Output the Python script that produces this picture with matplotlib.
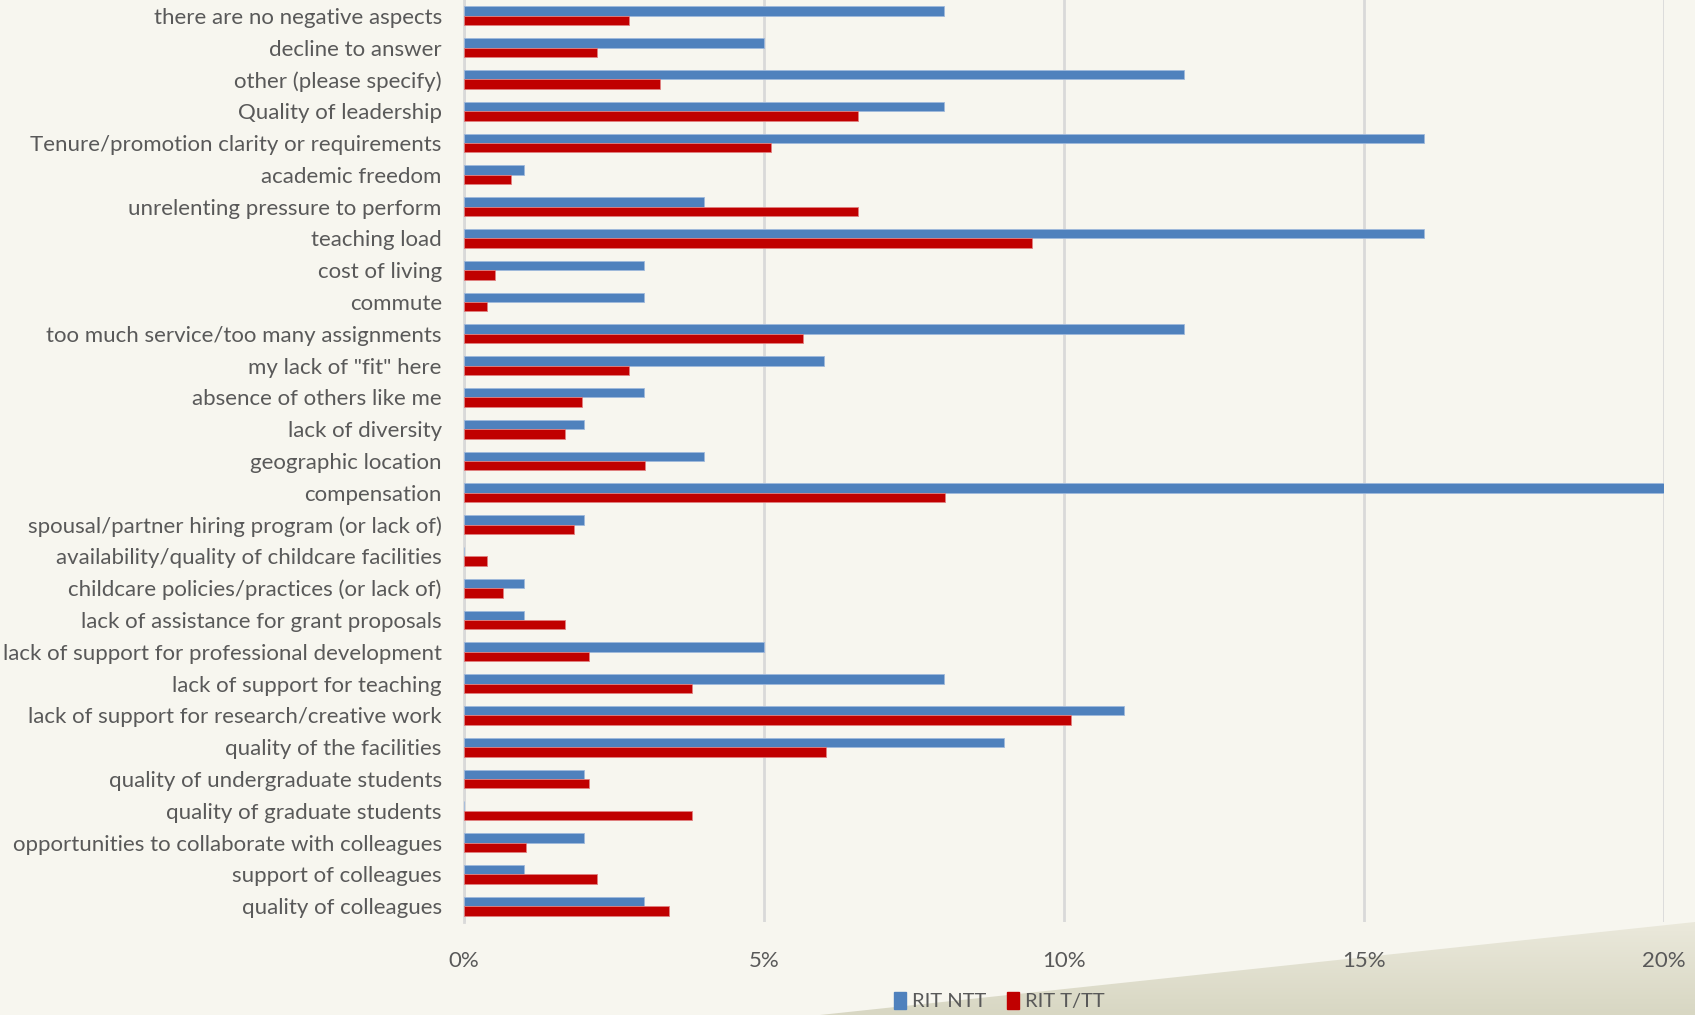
import numpy as np
import matplotlib.pyplot as plt
from matplotlib.patches import Polygon, Patch

categories = [
    "there are no negative aspects",
    "decline to answer",
    "other (please specify)",
    "Quality of leadership",
    "Tenure/promotion clarity or requirements",
    "academic freedom",
    "unrelenting pressure to perform",
    "teaching load",
    "cost of living",
    "commute",
    "too much service/too many assignments",
    "my lack of \"fit\" here",
    "absence of others like me",
    "lack of diversity",
    "geographic location",
    "compensation",
    "spousal/partner hiring program (or lack of)",
    "availability/quality of childcare facilities",
    "childcare policies/practices (or lack of)",
    "lack of assistance for grant proposals",
    "lack of support for professional development",
    "lack of support for teaching",
    "lack of support for research/creative work",
    "quality of the facilities",
    "quality of undergraduate students",
    "quality of graduate students",
    "opportunities to collaborate with colleagues",
    "support of colleagues",
    "quality of colleagues",
]

# percent of respondents
rit_ntt = [8, 5, 12, 8, 16, 1, 4, 16, 3, 3, 12, 6, 3, 2, 4, 20, 2, 0, 1, 1,
           5, 8, 11, 9, 2, 0, 2, 1, 3]
rit_ttt = [2.75, 2.22, 3.27, 6.57, 5.12, 0.78, 6.57, 9.46, 0.52, 0.38, 5.65,
           2.75, 1.96, 1.69, 3.01, 8.02, 1.83, 0.38, 0.65, 1.69, 2.08, 3.80,
           10.11, 6.03, 2.08, 3.80, 1.04, 2.22, 3.41]

xticks = [0, 5, 10, 15, 20]
xtick_labels = ["0%", "5%", "10%", "15%", "20%"]

BG = "#f7f6ef"
TXT = "#595959"
BLUE = "#4f81bd"
RED = "#c00000"
FS = 16

W, H = 1695, 1015
fig = plt.figure(figsize=(W / 100, H / 100), dpi=100, facecolor=BG)

# background layer with the shaded wedge in the lower right corner
bg = fig.add_axes([0, 0, 1, 1], zorder=-1)
bg.set_xlim(0, W)
bg.set_ylim(H, 0)
bg.axis("off")
wedge = Polygon([(820, H), (W, 922), (W, H)], closed=True,
                facecolor="none", edgecolor="none")
bg.add_patch(wedge)
grad = np.linspace(0, 1, 100).reshape(-1, 1)
img = bg.imshow(grad, extent=[800, W, H, 915], aspect="auto",
                cmap=plt.matplotlib.colors.LinearSegmentedColormap.from_list(
                    "w", ["#eceadd", "#d8d7c3"]), interpolation="bicubic")
img.set_clip_path(wedge)

ax = fig.add_axes([464 / W, 1 - 922 / H, (1664 - 464) / W, 922 / H])
ax.set_facecolor("none")

y = np.arange(len(categories))
h = 0.296
ax.barh(y - h / 2, rit_ntt, height=h, color=BLUE, edgecolor="#9fb9dc",
        linewidth=0.6, label="RIT NTT", zorder=3)
ax.barh(y + h / 2, rit_ttt, height=h, color=RED, edgecolor="#e08080",
        linewidth=0.6, label="RIT T/TT", zorder=3)

ax.set_ylim(len(categories) - 0.5, -0.5)
ax.set_xlim(0, 20)
ax.set_yticks(y)
ax.set_yticklabels(categories)
ax.set_xticks(xticks)
ax.set_xticklabels(xtick_labels)
ax.tick_params(length=0, labelsize=FS, labelcolor=TXT)
ax.tick_params(axis="y", pad=16)
ax.tick_params(axis="x", pad=21)
for lab in ax.get_xticklabels() + ax.get_yticklabels():
    lab.set_family("Lato")

ax.grid(axis="x", color="#d9d9d9", linewidth=2, zorder=0)
ax.set_axisbelow(True)
for s in ["top", "right", "bottom"]:
    ax.spines[s].set_visible(False)
ax.spines["left"].set_color("#d9d9d9")
ax.spines["left"].set_linewidth(2)

handles = [Patch(color=BLUE, label="RIT NTT"), Patch(color=RED, label="RIT T/TT")]
fig.legend(handles=handles, loc="center left", bbox_to_anchor=(880 / W, 1 - 1001 / H),
           ncol=2, frameon=False, handlelength=0.6, handleheight=0.9,
           handletextpad=0.3, columnspacing=1.0, borderpad=0.2,
           prop={"family": "Lato", "size": 14.5}, labelcolor=TXT)

fig.savefig("out.png", dpi=100, facecolor=BG)
